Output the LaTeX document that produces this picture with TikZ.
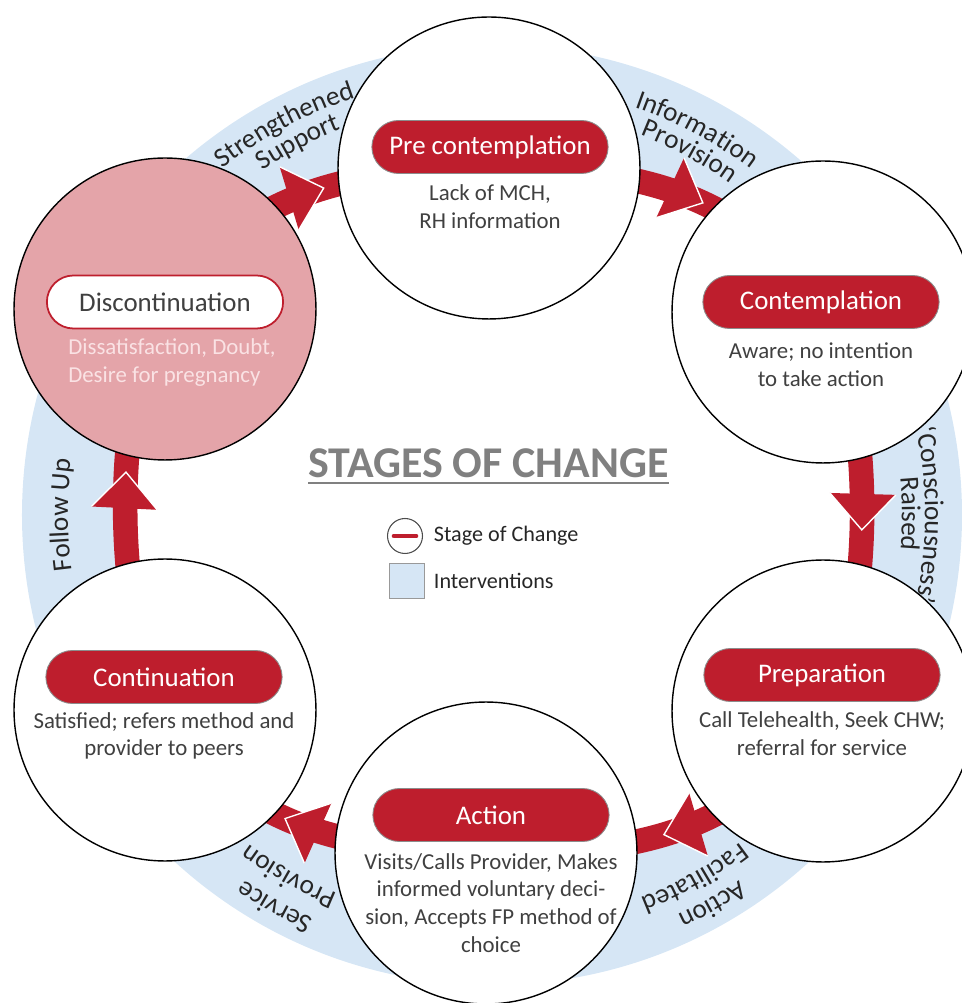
\documentclass[tikz,border=0pt]{standalone}
\usepackage{fontspec}
\setmainfont{Carlito}
\usetikzlibrary{positioning,shapes.misc,decorations.text,decorations.markings,backgrounds}

\definecolor{stagered}{RGB}{190,30,45}
\definecolor{ringblue}{RGB}{214,230,245}
\definecolor{discpink}{RGB}{228,164,169}
\definecolor{discnote}{RGB}{250,226,228}
\definecolor{notegray}{RGB}{64,64,64}
\definecolor{titlegray}{RGB}{128,128,128}

\newcommand\ringfont{\fontsize{15.5}{18}\selectfont}

\begin{document}
\begin{tikzpicture}[x=0.02cm, y=0.02cm,
        stage/.style={circle, draw=black, line width=0.8pt, fill=white, minimum size=6.04cm, inner sep=0pt},
        pill/.style={rounded rectangle, fill=stagered, draw=black!45, line width=0.5pt, text=white,
            minimum width=4.96cm, minimum height=1.06cm, font=\fontsize{15.3}{18}\selectfont},
        note/.style={align=center, text=notegray, inner sep=0pt, font=\fontsize{13}{15.9}\selectfont},
        shaft/.style={draw=stagered, line width=14pt},
        head/.style={postaction={decorate, decoration={markings, mark=at position #1 with {
            \fill[stagered] (0,0) -- (-36,33) -- (-36,-33) -- cycle;
            \draw[white, line width=0.8pt] (-36,33) -- (0,0) -- (-36,-33);}}}},
        ring label/.style={decorate, decoration={text along path, text align=center, text color=black!85}}]

    \useasboundingbox (-492,-488) rectangle (469,515);

    % the six stages
    \node[stage] (pre) at (-3,347) {};
    \node[stage] (contemplation) at (331,203) {};
    \node[stage] (preparation) at (331,-196) {};
    \node[stage] (action) at (-6,-338) {};
    \node[stage] (continuation) at (-327,-195) {};
    \node[stage, fill=discpink] (disc) at (-327,206) {};

    \node[pill] (pre label) at (-2,368) {Pre contemplation};
    \node[pill] (contemplation label) at (329,213) {Contemplation};
    \node[pill] (preparation label) at (330,-160) {Preparation};
    \node[pill] (action label) at (-1,-300) {Action};
    \node[pill] (continuation label) at (-328,-162) {Continuation};
    \node[pill, fill=white, draw=stagered, line width=1pt, text=notegray] (disc label) at (-327,213) {Discontinuation};

    \node[note, below=5.7pt of pre label] (pre note) {Lack of MCH,\\RH information};
    \node[note, below=7.4pt of contemplation label] (contemplation note) {Aware; no intention\\to take action};
    \node[note, below=5.1pt of preparation label] (preparation note) {Call Telehealth, Seek CHW;\\referral for service};
    \node[note, below=6.2pt of action label] (action note) {Visits/Calls Provider, Makes\\informed voluntary deci-\\sion, Accepts FP method of\\choice};
    \node[note, below=4.5pt of continuation label] (continuation note) {Satisfied; refers method and\\provider to peers};
    \node[note, below=5.1pt of disc label, xshift=4pt, align=left, text=discnote] (disc note) {Dissatisfaction, Doubt,\\Desire for pregnancy};

    % ring of interventions and the arrows between stages
    \begin{scope}[on background layer]
        \fill[ringblue, even odd rule] (0,0) circle[radius=470] (0,0) circle[radius=366];
        \draw[shaft, head=0.55] (disc.center) to[out=57.8, in=180.5] (pre.center);
        \draw[shaft, head=0.57] (pre.center) to[out=0.5, in=121.5] (contemplation.center);
        \draw[shaft, head=0.545] (contemplation.center) to[out=-58.5, in=59.4, looseness=0.65] (preparation.center);
        \draw[shaft, head=0.535] (preparation.center) to[out=-120.6, in=-1] (action.center);
        \draw[shaft, head=0.555] (action.center) to[out=179, in=-59.2] (continuation.center);
        \draw[shaft, head=0.59] (continuation.center) to[out=120.8, in=-122.2, looseness=0.65] (disc.center);
    \end{scope}

    % interventions written along the ring
    \path[ring label, decoration={text={|\ringfont|Strengthened}}] (148:439) arc[start angle=148, end angle=88, radius=439];
    \path[ring label, decoration={text={|\ringfont|Support}}] (147.5:414) arc[start angle=147.5, end angle=87.5, radius=414];
    \path[ring label, decoration={text={|\ringfont|Information}}] (92:432) arc[start angle=92, end angle=32, radius=432];
    \path[ring label, decoration={text={|\ringfont|Provision}}] (91.5:408) arc[start angle=91.5, end angle=31.5, radius=408];
    \path[ring label, decoration={text={|\ringfont|‘Consciousness’}}] (30:433) arc[start angle=30, end angle=-30, radius=433];
    \path[ring label, decoration={text={|\ringfont|Raised}}] (30.2:410) arc[start angle=30.2, end angle=-29.8, radius=410];
    \path[ring label, decoration={text={|\ringfont|Action}}] (-30.5:441) arc[start angle=-30.5, end angle=-90.5, radius=441];
    \path[ring label, decoration={text={|\ringfont|Facilitated}}] (-30.8:411) arc[start angle=-30.8, end angle=-90.8, radius=411];
    \path[ring label, decoration={text={|\ringfont|Service}}] (-89:441) arc[start angle=-89, end angle=-149, radius=441];
    \path[ring label, decoration={text={|\ringfont|Provision}}] (-89.3:409) arc[start angle=-89.3, end angle=-149.3, radius=409];
    \path[ring label, decoration={text={|\ringfont|Follow Up}}] (210:424) arc[start angle=210, end angle=150, radius=424];

    % title and key
    \node[font=\fontsize{25}{30}\selectfont\bfseries, text=titlegray, inner sep=0pt, anchor=base] (title) at (-3.5,37) {STAGES OF CHANGE};
    \draw[titlegray, line width=1.2pt] ([yshift=-2.8pt]title.base west) -- ([yshift=-2.8pt]title.base east);

    \node[circle, draw=black!70, line width=0.6pt, fill=white, minimum size=0.7cm, inner sep=0pt] (stage key) at (-87,-21) {};
    \draw[stagered, line width=2.8pt, line cap=round] ([xshift=-6.2pt]stage key.center) -- ([xshift=6.2pt]stage key.center);
    \node[draw=black!40, fill=ringblue, minimum size=0.7cm, inner sep=0pt] (intervention key) at (-85,-66) {};
    \node[right=6pt of stage key, inner sep=0pt, text=black!85, font=\fontsize{12.6}{15}\selectfont] (stage text) {Stage of Change};
    \node[right=5pt of intervention key, inner sep=0pt, text=black!85, font=\fontsize{12.6}{15}\selectfont] (intervention text) {Interventions};
\end{tikzpicture}
\end{document}
